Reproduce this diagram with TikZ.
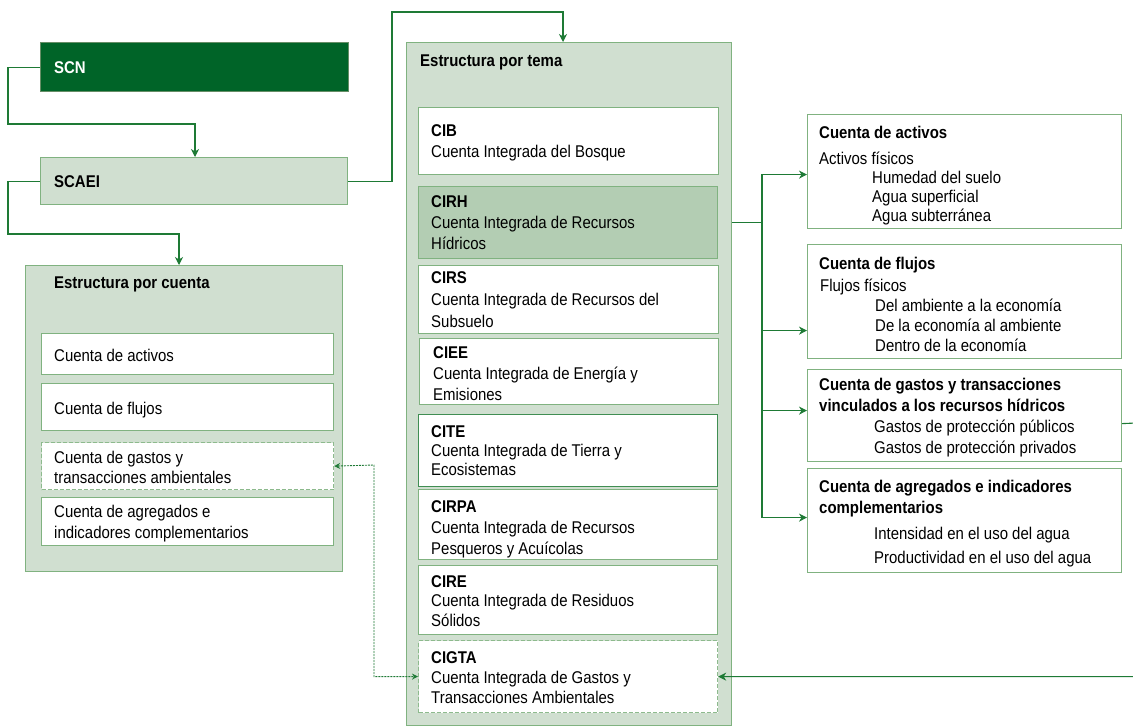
\documentclass[tikz,border=0pt]{standalone}
\usepackage{fontspec}
\setmainfont{Liberation Sans}[FakeStretch=0.88]
\usetikzlibrary{arrows.meta,calc}
\definecolor{dkgreen}{HTML}{006428}
\definecolor{panelc}{HTML}{D0DFD0}
\definecolor{hlc}{HTML}{B3CDB3}
\definecolor{bordc}{HTML}{80B280}
\definecolor{lnkc}{HTML}{1E7A35}
\tikzset{
  boxst/.style={draw=bordc, line width=1.2pt, fill=white, rectangle, inner sep=0pt, anchor=north west},
  dashbox/.style={boxst, draw=bordc!90, dash pattern=on 4pt off 2pt},
  panelst/.style={boxst, fill=panelc},
  txt/.style={anchor=north west, inner sep=0pt, align=left, font=\fontsize{17}{21}\selectfont, text=black},
  lnk/.style={draw=lnkc, line width=1.1pt},
  arr/.style={lnk, -{Stealth[length=8pt,width=8pt,inset=2.5pt]}},
  darr/.style={draw=lnkc, line width=0.9pt, dash pattern=on 2pt off 1pt, {Stealth[length=6pt,width=6pt,inset=2pt]}-{Stealth[length=6pt,width=6pt,inset=2pt]}}
}
\begin{document}
\begin{tikzpicture}[x=1pt,y=-1pt]
\useasboundingbox (0,0) rectangle (1133,728);
% top boxes
\node[boxst, fill=dkgreen, draw=bordc!80!black, minimum width=308pt, minimum height=49pt] (scn) at (40,42) {};
\node[txt, text=white, font=\fontsize{17}{21}\selectfont\bfseries] (scnt) at (54,61) {SCN};
\node[boxst, fill=panelc, minimum width=307pt, minimum height=47pt] (scaei) at (40,157) {};
\node[txt, font=\fontsize{17}{21}\selectfont\bfseries] (scaeit) at (54,175) {SCAEI};
% panel cuenta
\node[panelst, minimum width=317pt, minimum height=306pt] (cuenta) at (25,265) {};
\node[txt, font=\fontsize{17}{21}\selectfont\bfseries] (cuentat) at (54,277) {Estructura por cuenta};
\node[boxst, minimum width=292pt, minimum height=41pt] (cact) at (41,333) {};
\node[txt] (cactt) at (54,349) {Cuenta de activos};
\node[boxst, minimum width=292pt, minimum height=47pt] (cflu) at (41,383) {};
\node[txt] (cflut) at (54,402) {Cuenta de flujos};
\node[dashbox, minimum width=292pt, minimum height=47pt] (cgas) at (41,442) {};
\node[txt, font=\fontsize{17}{20}\selectfont] (cgast) at (54,451) {Cuenta de gastos y\\transacciones ambientales};
\node[boxst, minimum width=292pt, minimum height=48pt] (cagr) at (41,497) {};
\node[txt] (cagrt) at (54,505) {Cuenta de agregados e\\indicadores complementarios};
% panel tema
\node[panelst, minimum width=325pt, minimum height=683pt] (tema) at (406,42) {};
\node[txt, font=\fontsize{17}{21}\selectfont\bfseries] (temat) at (420,55) {Estructura por tema};
\node[boxst, minimum width=300pt, minimum height=67pt] (cib) at (418,107) {};
\node[txt] (cibt) at (431,124) {\textbf{CIB}\\Cuenta Integrada del Bosque};
\node[boxst, fill=hlc, minimum width=299pt, minimum height=72pt] (cirh) at (418,186) {};
\node[txt] (cirht) at (431,195) {\textbf{CIRH}\\Cuenta Integrada de Recursos\\Hídricos};
\node[boxst, minimum width=300pt, minimum height=68pt] (cirs) at (418,265) {};
\node[txt, font=\fontsize{17}{22}\selectfont] (cirst) at (431,271) {\textbf{CIRS}\\Cuenta Integrada de Recursos del\\Subsuelo};
\node[boxst, minimum width=299pt, minimum height=66pt] (ciee) at (419,338) {};
\node[txt] (cieet) at (433,346) {\textbf{CIEE}\\Cuenta Integrada de Energía y\\Emisiones};
\node[boxst, draw=lnkc!85, minimum width=299pt, minimum height=72pt] (cite) at (418,414) {};
\node[txt, font=\fontsize{17}{19}\selectfont] (citet) at (431,425) {\textbf{CITE}\\Cuenta Integrada de Tierra y\\Ecosistemas};
\node[boxst, minimum width=299pt, minimum height=70pt] (cirpa) at (418,489) {};
\node[txt] (cirpat) at (431,500) {\textbf{CIRPA}\\Cuenta Integrada de Recursos\\Pesqueros y Acuícolas};
\node[boxst, minimum width=299pt, minimum height=69pt] (cire) at (418,565) {};
\node[txt, font=\fontsize{17}{19.5}\selectfont] (ciret) at (431,575) {\textbf{CIRE}\\Cuenta Integrada de Residuos\\Sólidos};
\node[dashbox, minimum width=299pt, minimum height=72pt] (cigta) at (418,640) {};
\node[txt, font=\fontsize{17}{20}\selectfont] (cigtat) at (431,651) {\textbf{CIGTA}\\Cuenta Integrada de Gastos y\\Transacciones Ambientales};
% right boxes
\node[boxst, minimum width=314pt, minimum height=114pt] (ract) at (807,114) {};
\node[txt, font=\fontsize{17}{19}\selectfont] (ractt) at (819,126) {\textbf{Cuenta de activos}\\[7pt]Activos físicos\\\hspace*{53pt}Humedad del suelo\\\hspace*{53pt}Agua superficial\\\hspace*{53pt}Agua subterránea};
\node[boxst, minimum width=314pt, minimum height=114pt] (rflu) at (807,244) {};
\node[txt, font=\fontsize{17}{20}\selectfont] (rflut) at (819,257) {\textbf{Cuenta de flujos}\\[2pt]\hspace*{1pt}Flujos físicos\\\hspace*{56pt}Del ambiente a la economía\\\hspace*{56pt}De la economía al ambiente\\\hspace*{56pt}Dentro de la economía};
\node[boxst, minimum width=314pt, minimum height=92pt] (rgas) at (807,369) {};
\node[txt, font=\fontsize{17}{21}\selectfont] (rgast) at (819,378) {\textbf{Cuenta de gastos y transacciones}\\\textbf{vinculados a los recursos hídricos}\\\hspace*{55pt}Gastos de protección públicos\\\hspace*{55pt}Gastos de protección privados};
\node[boxst, minimum width=314pt, minimum height=104pt] (ragr) at (807,468) {};
\node[txt, font=\fontsize{17}{21}\selectfont] (ragrt) at (819,480) {\textbf{Cuenta de agregados e indicadores}\\\textbf{complementarios}\\[5pt]\hspace*{55pt}Intensidad en el uso del agua\\[3pt]\hspace*{55pt}Productividad en el uso del agua};
% connectors
\coordinate (k1) at (8,124);
\coordinate (k2) at (195,124);
\draw[arr] (scn.west) -| (k1) -- (k2) -- (k2 |- scaei.north);
\coordinate (k3) at (8,234);
\coordinate (k4) at (179,234);
\draw[arr] (scaei.west) -| (k3) -- (k4) -- (k4 |- cuenta.north);
\coordinate (k5) at (392,12);
\coordinate (k6) at (563,12);
\draw[arr] (scaei.east) -| (k5) -- (k6) -- (k6 |- tema.north);
\coordinate (trx) at (762,0);
\coordinate (tr) at (trx |- cirh.east);
\draw[lnk] (cirh.east -| tema.east) -- (tr);
\draw[arr] (tr) |- ([yshift=-3pt]ract.west);
\draw[arr] (tr) |- ([yshift=-29pt]rflu.west);
\draw[arr] (tr) |- ([yshift=5pt]rgas.west);
\draw[arr] (tr) |- ([yshift=3pt]ragr.west);
\coordinate (k7) at (1136,423);
\draw[arr] ([yshift=-8pt]rgas.east) -- (k7) |- (cigta.east);
\coordinate (k8) at (374,465);
\draw[darr] (cgas.east) -- (k8) |- (cigta.west);
\end{tikzpicture}
\end{document}
